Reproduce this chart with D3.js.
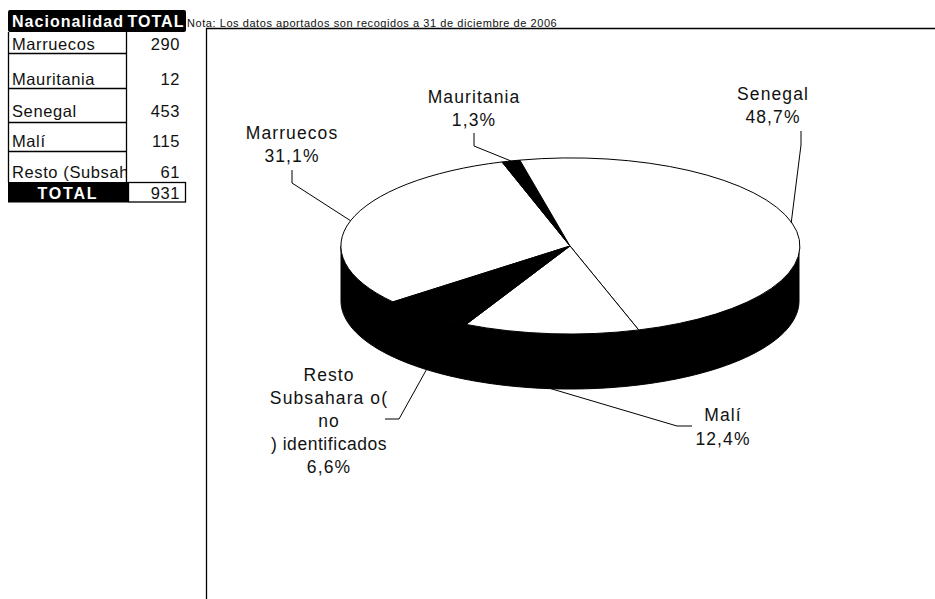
<!DOCTYPE html>
<html><head><meta charset="utf-8">
<script src="https://cdn.jsdelivr.net/npm/d3@7/dist/d3.min.js"></script>
<style>html,body{margin:0;background:#fff}svg{display:block}text{font-family:"Liberation Sans",Arial,sans-serif;fill:#111}</style>
</head><body><svg id="c" width="935" height="599"></svg>
<script>
const categories = ["Marruecos","Mauritania","Senegal","Malí","Resto (Subsahara o no identificados)"];
const values = [290,12,453,115,61];
const percentLabels = ["31,1%","1,3%","48,7%","12,4%","6,6%"];
const sliceFills = ["#fff","#000","#fff","#fff","#000"];
const labelLines = [["Marruecos"],["Mauritania"],["Senegal"],["Malí"],["Resto","Subsahara o(","no",") identificados"]];
const totalValue = 931;
const note = "Nota: Los datos aportados son recogidos a 31 de diciembre de 2006";
const headers = ["Nacionalidad","TOTAL"];
const totalLabel = "TOTAL";

const W=935,H=599, cx=570, cy=246, rx=229, ry=88, depth=55;
const deg=Math.PI/180, start=230.6*deg;
const svg=d3.select("#c");

// note (clipped by the chart area below)
svg.append("text").attr("x",187).attr("y",27).attr("font-size",11).attr("letter-spacing",0.56).text(note);
svg.append("rect").attr("x",206).attr("y",28).attr("width",W-206).attr("height",H-28).attr("fill","#fff");
svg.append("path").attr("d",`M206.5,${H}V28.5H${W}`).attr("fill","none").attr("stroke","#000").attr("stroke-width",1.3);

// table
const rowBottoms=[53,88,122,151,182], baselines=[50,85,117,147,178];
const tbl=svg.append("g");
const colL=8,colM=127,colR=185;
tbl.append("rect").attr("x",colL).attr("y",10).attr("width",colR-colL+1).attr("height",22).attr("rx",2).attr("fill","#000");
tbl.selectAll("text.h").data(headers).join("text").attr("class","h").attr("x",(d,i)=>i?127.5:12).attr("y",27).attr("font-size",16).attr("font-weight","bold").attr("letter-spacing",1.03).style("fill","#fff").text(d=>d);
svg.append("clipPath").attr("id","cl").append("rect").attr("x",0).attr("y",0).attr("width",colM-1).attr("height",H);
const rows=tbl.selectAll("g.r").data(categories).join("g").attr("class","r");
rows.append("g").attr("clip-path","url(#cl)").append("text").attr("x",12).attr("y",(d,i)=>baselines[i]).attr("font-size",16.5).attr("letter-spacing",0.6).text(d=>d);
rows.append("text").attr("x",180).attr("y",(d,i)=>baselines[i]).attr("text-anchor","end").attr("font-size",16.5).attr("letter-spacing",0.6).text((d,i)=>values[i]);
rows.filter((d,i)=>i<4).append("line").attr("x1",colL).attr("x2",colM).attr("y1",(d,i)=>rowBottoms[i]+.5).attr("y2",(d,i)=>rowBottoms[i]+.5).attr("stroke","#000").attr("stroke-width",1.3);
tbl.append("path").attr("d",`M${colL+.5},32V182M${colM-.5},32V182`).attr("stroke","#000").attr("stroke-width",1.3).attr("fill","none");
tbl.append("rect").attr("x",colL).attr("y",182).attr("width",colM-colL+1).attr("height",20.5).attr("fill","#000");
tbl.append("rect").attr("x",colM+1.5).attr("y",182.5).attr("width",colR-colM-1).attr("height",19.5).attr("fill","#fff").attr("stroke","#000").attr("stroke-width",1.3);
tbl.append("text").attr("x",68).attr("y",199).attr("text-anchor","middle").attr("font-size",16).attr("font-weight","bold").attr("letter-spacing",1.8).style("fill","#fff").text(totalLabel);
tbl.append("text").attr("x",180).attr("y",199).attr("text-anchor","end").attr("font-size",16.5).attr("letter-spacing",0.6).text(totalValue);

// pie
const pie=d3.pie().sort(null).startAngle(start).endAngle(start+2*Math.PI)(values);
const px=a=>cx+rx*Math.sin(a), py=a=>cy-ry*Math.cos(a);
const wallAngles=d3.range(90,270.5,1).map(a=>a*deg);
const wall=wallAngles.map(a=>[px(a),py(a)]).concat(wallAngles.slice().reverse().map(a=>[px(a),py(a)+depth]));
svg.append("path").attr("d",d3.line()(wall)+"Z").attr("fill","#000").attr("stroke","#000");
const arc=d3.arc().innerRadius(0).outerRadius(1);
svg.append("g").attr("transform",`translate(${cx},${cy}) scale(${rx},${ry})`)
 .selectAll("path").data(pie).join("path").attr("d",arc)
 .attr("fill",(d,i)=>sliceFills[i]).attr("stroke","#000").attr("stroke-width",1)
 .attr("vector-effect","non-scaling-stroke");

// leaders and labels (anchors follow each slice's mid angle)
const labelLayout=[
 {x:292,y:[139,162],elbow:[[292,170],[292,183]]},
 {x:474,y:[103,126],elbow:[[474,133],[474,146]]},
 {x:773,y:[100,123],elbow:[[801,131],[801,145]]},
 {x:723,y:[421,445],elbow:[[692,426],[677,426]]},
 {x:329,y:[381,404,427,450,473],elbow:[[385,419],[399,419]]}
];
pie.forEach((d,i)=>{
  const m=(d.startAngle+d.endAngle)/2, n=((m%(2*Math.PI))+2*Math.PI)%(2*Math.PI);
  const front=n>Math.PI/2&&n<1.5*Math.PI;
  const anchor=[px(m),py(m)+(front?depth:0)];
  const L=labelLayout[i];
  svg.append("path").attr("d",d3.line()([...L.elbow,anchor])).attr("fill","none").attr("stroke","#000").attr("stroke-width",1);
  const lines=[...labelLines[i],percentLabels[i]];
  svg.append("g").selectAll("text").data(lines).join("text")
    .attr("x",L.x).attr("y",(t,j)=>L.y[j]).attr("text-anchor","middle")
    .attr("font-size",17.5).attr("letter-spacing",t=>t.startsWith(")")?0.55:1.1).text(t=>t);
});
</script></body></html>
